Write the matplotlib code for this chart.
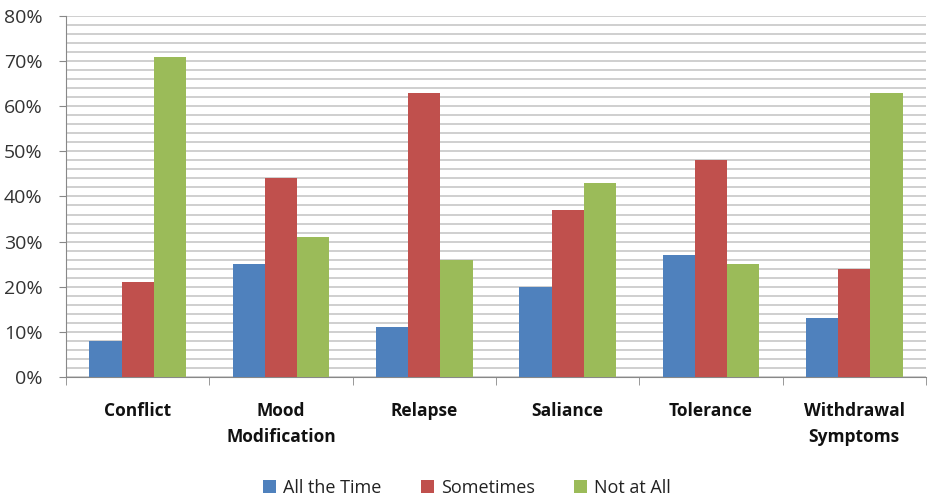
import numpy as np
import matplotlib
matplotlib.use('Agg')
import matplotlib.pyplot as plt
from matplotlib.ticker import MultipleLocator, FuncFormatter

categories = ['Conflict', 'Mood\nModification', 'Relapse', 'Saliance',
              'Tolerance', 'Withdrawal\nSymptoms']
all_the_time = [8, 25, 11, 20, 27, 13]
sometimes = [21, 44, 63, 37, 48, 24]
not_at_all = [71, 31, 26, 43, 25, 63]
series_names = ['All the Time', 'Sometimes', 'Not at All']

COLORS = ['#4F81BD', '#C0504D', '#9BBB59']
plt.rcParams['font.family'] = ['Open Sans', 'DejaVu Sans']

fig = plt.figure(figsize=(9.34, 4.98), dpi=100)
ax = fig.add_axes([0.0707, 0.243, 0.9207, 0.725])

x = np.arange(len(categories))
w = 0.225
for i, (vals, name) in enumerate(zip([all_the_time, sometimes, not_at_all], series_names)):
    ax.bar(x + (i - 1) * w, vals, width=w, color=COLORS[i], label=name, zorder=3)

ax.set_xlim(-0.5, len(categories) - 0.5)
ax.set_ylim(0, 80)
ax.yaxis.set_major_locator(MultipleLocator(10))
ax.yaxis.set_minor_locator(MultipleLocator(2))
ax.yaxis.set_major_formatter(FuncFormatter(lambda v, _: f'{v:.0f}%'))
ax.grid(axis='y', which='both', color='#c2c2c2', linewidth=1.1, zorder=0)

# категории по центру группы, засечки на границах групп
ax.set_xticks(x)
ax.set_xticklabels(categories, fontweight='bold', fontsize=12.5, color='#111111',
                   linespacing=1.55)
ax.set_xticks(np.arange(len(categories) + 1) - 0.5, minor=True)
ax.tick_params(axis='x', which='major', length=0, pad=18)
ax.tick_params(axis='x', which='minor', length=6, color='#888888', direction='out')
ax.tick_params(axis='y', which='major', length=5, color='#888888', labelsize=14,
               labelcolor='#333333', pad=12)
ax.tick_params(axis='y', which='minor', length=0)

for s in ['top', 'right']:
    ax.spines[s].set_visible(False)
for s in ['left', 'bottom']:
    ax.spines[s].set_color('#888888')

fig.legend(loc='center', bbox_to_anchor=(0.5, 0.02), ncol=3, frameon=False,
           fontsize=13, handlelength=0.7, handleheight=0.7, columnspacing=2.2,
           handletextpad=0.4, labelcolor='#222222', borderpad=0.1)

fig.savefig('out.png', dpi=100)
